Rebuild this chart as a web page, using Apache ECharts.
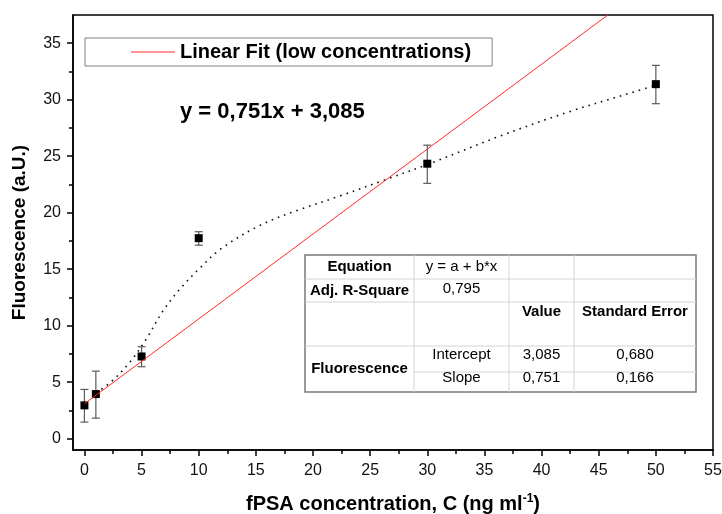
<!DOCTYPE html>
<html><head><meta charset="utf-8">
<script src="https://cdn.jsdelivr.net/npm/echarts@6/dist/echarts.min.js"></script>
<style>html,body{margin:0;padding:0;background:#fff}#c{width:722px;height:514px}</style>
</head><body><div id="c"></div>
<script>
// ---- data ----
const concX = [0, 1, 5, 10, 30, 50];
const fluorY = [2.95, 3.95, 7.28, 17.75, 24.34, 31.38];
const errLow = [1.47, 1.82, 6.37, 17.13, 22.6, 29.65];
const errHigh = [4.36, 5.98, 8.14, 18.32, 25.98, 33.04];
const curveX = [1, 2.3, 4, 5.4, 6.9, 8.4, 10.1, 12, 15.4, 18.9, 22.4, 26, 30.6, 36.4, 42.3, 48.1, 50];
const curveY = [4.05, 5.0, 6.8, 8.8, 11.35, 13.3, 15.1, 16.85, 18.9, 20.3, 21.5, 22.8, 24.5, 26.8, 28.9, 30.7, 31.3];
const fitX = [0, 45.8];
const fitY = [3.085, 37.5];
const xTickLabels = [0, 5, 10, 15, 20, 25, 30, 35, 40, 45, 50, 55];
const xMinorTicks = [2.5, 7.5, 12.5, 17.5, 22.5, 27.5, 32.5, 37.5, 42.5, 47.5, 52.5];
const yTickLabels = [0, 5, 10, 15, 20, 25, 30, 35];
const yMinorTicks = [2.5, 7.5, 12.5, 17.5, 22.5, 27.5, 32.5];
const legendName = 'Linear Fit (low concentrations)';
const equationText = 'y = 0,751x + 3,085';
const xTitle = 'fPSA concentration, C (ng ml';
const xTitleSup = '-1';
const yTitle = 'Fluorescence (a.U.)';
const tableRow1 = ['Equation', 'y = a + b*x', '', ''];
const tableRow2 = ['Adj. R-Square', '0,795', '', ''];
const tableRow3 = ['', '', 'Value', 'Standard Error'];
const tableRow4 = ['Fluorescence', 'Intercept', '3,085', '0,680'];
const tableRow5 = ['', 'Slope', '0,751', '0,166'];

// ---- layout / style ----
const FF = '"Liberation Sans", Arial, sans-serif';
const chart = echarts.init(document.getElementById('c'), null, {renderer: 'canvas'});

const colX = [305, 414, 509, 574, 696];
const rowY = [255, 279, 302, 346, 372, 392];
const gfx = [];
const inner = '#d4d4d4';
function hline(y, x1, x2) { gfx.push({type: 'line', shape: {x1, y1: y, x2, y2: y}, style: {stroke: inner, lineWidth: 1}, z: 100}); }
function vline(x, y1, y2) { gfx.push({type: 'line', shape: {x1: x, y1, x2: x, y2}, style: {stroke: inner, lineWidth: 1}, z: 100}); }
gfx.push({type: 'rect', shape: {x: colX[0], y: rowY[0], width: colX[4] - colX[0], height: rowY[5] - rowY[0]}, style: {fill: '#fff', stroke: '#7a7a7a', lineWidth: 1.5}, z: 99});
hline(rowY[1], colX[0], colX[4]);
hline(rowY[2], colX[0], colX[4]);
hline(rowY[3], colX[0], colX[4]);
hline(rowY[4], colX[1], colX[4]);
vline(colX[1], rowY[0], rowY[5]);
vline(colX[2], rowY[0], rowY[5]);
vline(colX[3], rowY[0], rowY[5]);
function txt(s, x, y, bold) {
  if (!s) return;
  gfx.push({type: 'text', x, y, z: 101, style: {text: s, fill: '#000', font: (bold ? 'bold ' : '') + '15px ' + FF, align: 'center', verticalAlign: 'middle', textAlign: 'center', textVerticalAlign: 'middle'}});
}
const cx = [0, 1, 2, 3].map(i => (colX[i] + colX[i + 1]) / 2);
txt(tableRow1[0], cx[0], 267, true); txt(tableRow1[1], cx[1], 267, false);
txt(tableRow2[0], cx[0], 291, true); txt(tableRow2[1], cx[1], 289, false);
txt(tableRow3[2], cx[2], 312, true); txt(tableRow3[3], cx[3], 312, true);
txt(tableRow4[0], cx[0], 369, true); txt(tableRow4[1], cx[1], 354.5, false); txt(tableRow4[2], cx[2], 354.5, false); txt(tableRow4[3], cx[3], 354.5, false);
txt(tableRow5[1], cx[1], 378, false); txt(tableRow5[2], cx[2], 378, false); txt(tableRow5[3], cx[3], 378, false);
// equation
gfx.push({type: 'text', x: 180, y: 112, z: 101, style: {text: equationText, fill: '#000', font: 'bold 22px ' + FF, align: 'left', verticalAlign: 'middle', textAlign: 'left', textVerticalAlign: 'middle'}});

const axisLineStyle = {color: '#000', width: 1.5};
const labelStyle = {fontFamily: FF, fontSize: 16, color: '#111'};

chart.setOption({
  animation: false,
  backgroundColor: '#fff',
  grid: {left: 73, right: 9, top: 15, bottom: 64, show: true, borderColor: '#000', borderWidth: 1.5, containLabel: false, outerBoundsMode: 'none'},
  legend: {
    show: true, left: 85, top: 38, orient: 'horizontal',
    data: [{name: legendName, icon: 'rect', itemStyle: {color: '#ff2a2a'}}],
    padding: [4, 21, 4, 46],
    itemWidth: 44, itemHeight: 1, itemGap: 6,
    borderColor: '#808080', borderWidth: 1,
    textStyle: {fontFamily: FF, fontWeight: 'bold', fontSize: 20, color: '#000', lineHeight: 20},
    selectedMode: false
  },
  xAxis: [
    {
      type: 'value', min: -1, max: 55, position: 'bottom',
      axisLine: {show: true, onZero: false, lineStyle: axisLineStyle},
      axisTick: {show: true, length: 6, lineStyle: axisLineStyle, customValues: xTickLabels},
      axisLabel: {...labelStyle, margin: 13, customValues: xTickLabels},
      splitLine: {show: false},
      name: '{a|' + xTitle + '}{s|' + xTitleSup + '}{a|)}',
      nameLocation: 'middle', nameGap: 43,
      nameTextStyle: {rich: {
        a: {fontFamily: FF, fontWeight: 'bold', fontSize: 20, color: '#000', lineHeight: 22},
        s: {fontFamily: FF, fontWeight: 'bold', fontSize: 12, color: '#000', verticalAlign: 'top', lineHeight: 22, padding: [0, 0, 6, 0]}
      }}
    },
    {
      type: 'value', min: -1, max: 55, position: 'bottom',
      axisLine: {show: false, onZero: false},
      axisTick: {show: true, length: 4, lineStyle: axisLineStyle, customValues: xMinorTicks},
      axisLabel: {show: false},
      splitLine: {show: false}
    }
  ],
  yAxis: [
    {
      type: 'value', min: -1, max: 37.5, position: 'left',
      axisLine: {show: true, onZero: false, lineStyle: axisLineStyle},
      axisTick: {show: true, length: 6, lineStyle: axisLineStyle, customValues: yTickLabels},
      axisLabel: {...labelStyle, margin: 12, customValues: yTickLabels},
      splitLine: {show: false},
      name: yTitle, nameLocation: 'middle', nameGap: 44, nameRotate: 90,
      nameTextStyle: {fontFamily: FF, fontWeight: 'bold', fontSize: 19, color: '#000'}
    },
    {
      type: 'value', min: -1, max: 37.5, position: 'left',
      axisLine: {show: false, onZero: false},
      axisTick: {show: true, length: 4, lineStyle: axisLineStyle, customValues: yMinorTicks},
      axisLabel: {show: false},
      splitLine: {show: false}
    }
  ],
  series: [
    {
      name: 'curve', type: 'line', smooth: 0.35, symbol: 'none', silent: true,
      data: curveX.map((x, i) => [x, curveY[i]]),
      lineStyle: {color: '#111', width: 1.6, type: [1.6, 5]}, z: 2
    },
    {
      name: 'err', type: 'custom', silent: true,
      data: concX.map((x, i) => [x, errLow[i], errHigh[i]]),
      encode: {x: 0, y: [1, 2]},
      renderItem: function (params, api) {
        const x = api.value(0), lo = api.value(1), hi = api.value(2);
        const t = api.coord([x, hi]), b = api.coord([x, lo]);
        const w = 4, st = {stroke: '#5a5a5a', lineWidth: 1.2};
        return {type: 'group', children: [
          {type: 'line', shape: {x1: t[0], y1: t[1], x2: b[0], y2: b[1]}, style: st},
          {type: 'line', shape: {x1: t[0] - w, y1: t[1], x2: t[0] + w, y2: t[1]}, style: st},
          {type: 'line', shape: {x1: b[0] - w, y1: b[1], x2: b[0] + w, y2: b[1]}, style: st}
        ]};
      }, z: 3
    },
    {
      name: 'data', type: 'scatter', symbol: 'rect', symbolSize: 8,
      data: concX.map((x, i) => [x, fluorY[i]]),
      itemStyle: {color: '#000', opacity: 1}, z: 4
    },
    {
      name: legendName, type: 'line', symbol: 'none', clip: true,
      data: fitX.map((x, i) => [x, fitY[i]]),
      lineStyle: {color: '#ff2a2a', width: 1}, z: 5
    }
  ],
  graphic: {elements: gfx}
});
</script></body></html>
